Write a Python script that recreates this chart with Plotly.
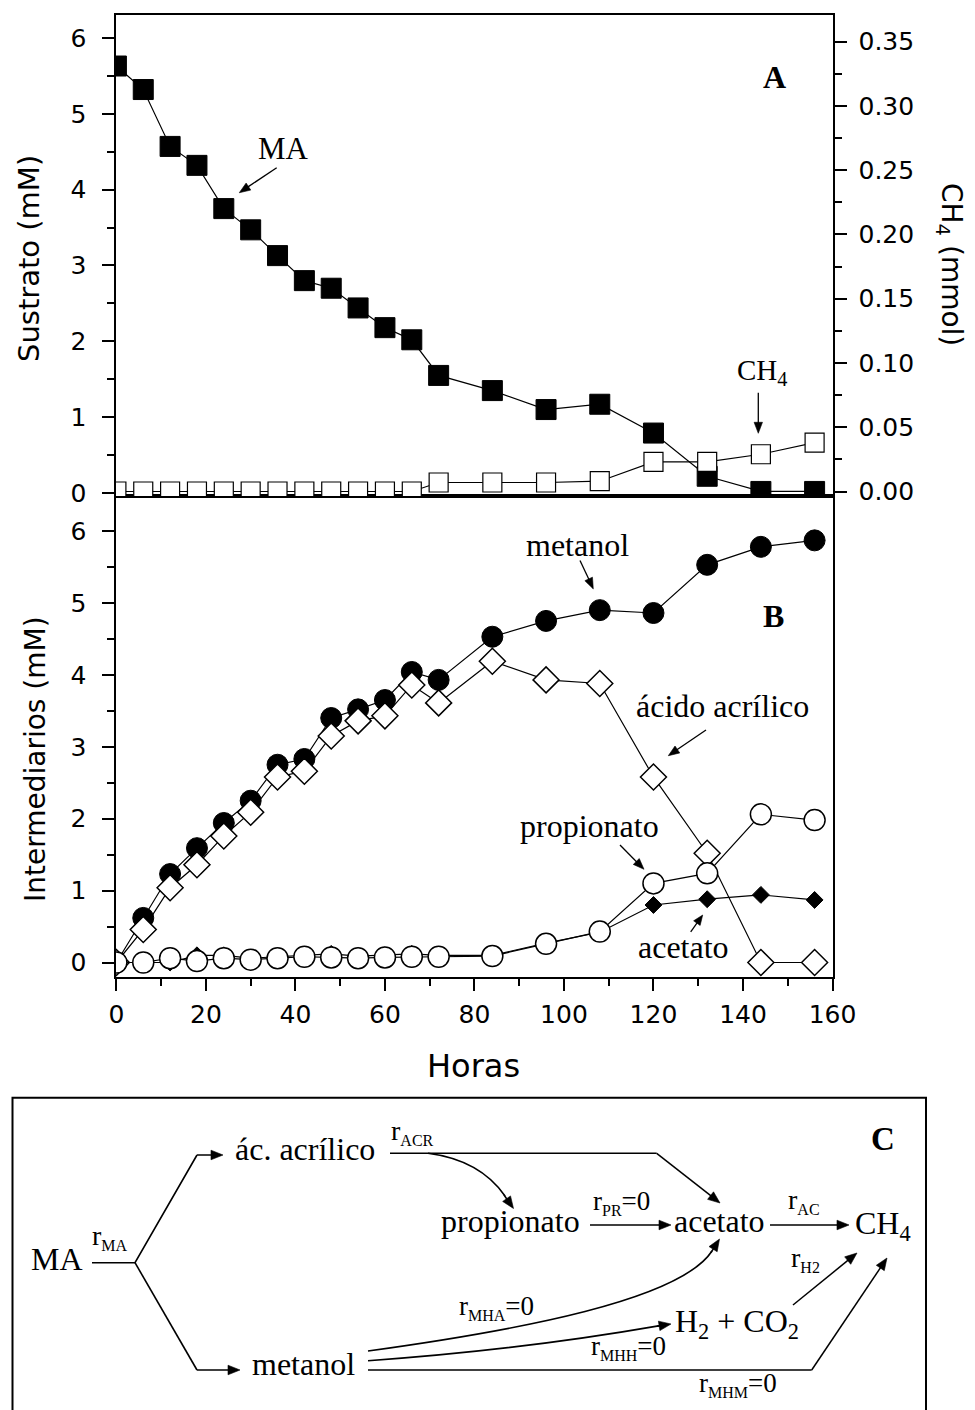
import math
import plotly.graph_objects as go

# ---------------- data ----------------
hours = [0, 6, 12, 18, 24, 30, 36, 42, 48, 54, 60, 66, 72, 84, 96, 108, 120, 132, 144, 156]
ma = [5.63, 5.32, 4.57, 4.32, 3.75, 3.47, 3.13, 2.80, 2.70, 2.44, 2.18, 2.02, 1.55,
      1.35, 1.10, 1.17, 0.79, 0.22, 0.02, 0.02]
ch4 = [0.0, 0.0, 0.0, 0.0, 0.0, 0.0, 0.0, 0.0, 0.0, 0.0, 0.0, 0.0, 0.007,
       0.007, 0.007, 0.008, 0.023, 0.023, 0.029, 0.038]
metanol = [0.0, 0.62, 1.23, 1.59, 1.94, 2.25, 2.75, 2.83, 3.40, 3.52, 3.65, 4.04, 3.93,
           4.53, 4.75, 4.90, 4.86, 5.53, 5.78, 5.87]
acrilico = [0.0, 0.46, 1.04, 1.36, 1.76, 2.09, 2.58, 2.66, 3.15, 3.36, 3.43, 3.86, 3.61,
            4.19, 3.93, 3.88, 2.58, 1.52, 0.0, 0.0]
propionato = [0.0, 0.0, 0.06, 0.02, 0.06, 0.04, 0.06, 0.08, 0.07, 0.06, 0.07, 0.08, 0.08,
              0.09, 0.26, 0.43, 1.10, 1.24, 2.06, 1.98]
acetato = [0.0, 0.0, 0.0, 0.10, 0.10, 0.06, 0.08, 0.09, 0.12, 0.09, 0.10, 0.12, 0.10,
           0.10, 0.27, 0.42, 0.80, 0.88, 0.94, 0.87]

x_ticks_dtick = 20
x_title = "Horas"
yA_title = "Sustrato (mM)"
yA2_title = "CH<sub>4</sub> (mmol)"
yB_title = "Intermediarios (mM)"

# ---------------- geometry helpers (pixel -> paper) ----------------
W, H = 975, 1410


def px(x):
    return x / W


def py(y):
    return 1 - y / H


SANS = "DejaVu Sans"
SERIF = "Liberation Serif, Times New Roman, serif"

fig = go.Figure()

line_style = dict(color="black", width=1.2)

# Panel A
fig.add_trace(go.Scatter(x=hours, y=ma, xaxis="x2", yaxis="y", mode="lines+markers",
                         line=line_style,
                         marker=dict(symbol="square", size=20, color="black",
                                     line=dict(color="black", width=1))))
fig.add_trace(go.Scatter(x=hours, y=ch4, xaxis="x2", yaxis="y2", mode="lines+markers",
                         line=line_style,
                         marker=dict(symbol="square", size=19, color="white",
                                     line=dict(color="black", width=1.2))))
# Panel B
fig.add_trace(go.Scatter(x=hours, y=metanol, xaxis="x", yaxis="y3", mode="lines+markers",
                         line=line_style,
                         marker=dict(symbol="circle", size=21, color="black",
                                     line=dict(color="black", width=1))))
fig.add_trace(go.Scatter(x=hours, y=acetato, xaxis="x", yaxis="y3", mode="lines+markers",
                         line=line_style,
                         marker=dict(symbol="diamond", size=13, color="black",
                                     line=dict(color="black", width=1))))
fig.add_trace(go.Scatter(x=hours, y=acrilico, xaxis="x", yaxis="y3", mode="lines+markers",
                         line=line_style,
                         marker=dict(symbol="diamond", size=20, color="white",
                                     line=dict(color="black", width=1.5))))
fig.add_trace(go.Scatter(x=hours, y=propionato, xaxis="x", yaxis="y3", mode="lines+markers",
                         line=line_style,
                         marker=dict(symbol="circle", size=21, color="white",
                                     line=dict(color="black", width=1.5))))

tickfont = dict(family=SANS, size=25, color="black")
base = dict(showline=True, linecolor="black", linewidth=2, showgrid=False, zeroline=False,
            ticks="outside", ticklen=12, tickwidth=2, tickcolor="black",
            tickfont=tickfont, automargin=False)

xdom = [px(115.5), px(832.5)]
xrange = [-0.2, 160]

fig.update_layout(
    width=W, height=H, autosize=False,
    margin=dict(l=0, r=0, t=0, b=0, pad=0, autoexpand=False),
    paper_bgcolor="white", plot_bgcolor="white", showlegend=False,
    xaxis=dict(base, domain=xdom, range=xrange, anchor="y3", dtick=x_ticks_dtick, tick0=0,
               mirror=True, ticklabelstandoff=2,
               minor=dict(dtick=10, ticks="outside", ticklen=7, tickwidth=2,
                          tickcolor="black", showgrid=False)),
    xaxis2=dict(showline=True, linecolor="black", linewidth=2, mirror=True, showgrid=False,
                zeroline=False, domain=xdom, range=xrange, anchor="y", ticks="",
                showticklabels=False, matches="x"),
    yaxis=dict(base, domain=[py(496), py(15)], range=[-0.04, 6.303], anchor="x2",
               dtick=1, tick0=0, mirror=True, ticklabelstandoff=10,
               minor=dict(dtick=0.5, ticks="outside", ticklen=7, tickwidth=2,
                          tickcolor="black", showgrid=False)),
    yaxis2=dict(base, overlaying="y", side="right", anchor="x2",
                range=[-0.0035, 0.3708], dtick=0.05, tick0=0, tickformat=".2f",
                ticklabelstandoff=7,
                minor=dict(dtick=0.025, ticks="outside", ticklen=7, tickwidth=2,
                           tickcolor="black", showgrid=False)),
    yaxis3=dict(base, domain=[py(977), py(496)], range=[-0.2016, 6.487], anchor="x",
                dtick=1, tick0=0, mirror=True, ticklabelstandoff=10,
                minor=dict(dtick=0.5, ticks="outside", ticklen=7, tickwidth=2,
                           tickcolor="black", showgrid=False)),
)

annotations = []
shapes = []


def txt(x, y, text, size=32, family=SERIF, xanchor="center", angle=0):
    annotations.append(dict(x=px(x), y=py(y), xref="paper", yref="paper", text=text,
                            showarrow=False, xanchor=xanchor, yanchor="middle",
                            textangle=angle,
                            font=dict(family=family, size=size, color="black")))


def P(x, y):
    return f"{px(x):.5f},{py(y):.5f}"


def path(d, width=1.6):
    shapes.append(dict(type="path", xref="paper", yref="paper", path=d,
                       line=dict(color="black", width=width)))


def arrow(tail, head, width=1.5, L=12.0, hw=4.8):
    """Straight segment tail->head finished with a filled triangular head."""
    dx, dy = head[0] - tail[0], head[1] - tail[1]
    n = math.hypot(dx, dy)
    ux, uy = dx / n, dy / n
    bx, by = head[0] - L * ux, head[1] - L * uy
    path(f"M{P(*tail)} L{P(bx + ux, by + uy)}", width=width)
    nx, ny = -uy, ux
    d = (f"M{P(*head)} L{P(bx + hw * nx, by + hw * ny)} "
         f"L{P(bx - hw * nx, by - hw * ny)} Z")
    shapes.append(dict(type="path", xref="paper", yref="paper", path=d,
                       fillcolor="black", line=dict(color="black", width=0.6)))


# axis titles
txt(29, 259, yA_title, size=29, family=SANS, angle=-90)
txt(35, 759, yB_title, size=28, family=SANS, angle=-90)
txt(950, 264, yA2_title, size=28, family=SANS, angle=90)
txt(473, 1066, x_title, size=32, family=SANS)

# Panel A labels
txt(283, 149, "MA", size=31)
arrow((276.7, 167.7), (239.3, 192.7), width=1.3, L=11, hw=4.2)
txt(774, 76.5, "<b>A</b>", size=32)
txt(762, 372, "CH<sub>4</sub>", size=29)
arrow((758.3, 392.7), (758.3, 433.3), width=1.3, L=11, hw=4.2)

# Panel B labels
txt(577.5, 545, "metanol", size=32)
arrow((580, 560.4), (593.3, 588.9), width=1.3, L=11, hw=4.2)
txt(773, 615.6, "<b>B</b>", size=32)
txt(722.5, 705.6, "ácido acrílico", size=32)
arrow((706, 730), (668.3, 755.7), width=1.3, L=11, hw=4.2)
txt(589, 826, "propionato", size=32)
arrow((620, 845), (644, 869.3), width=1.3, L=11, hw=4.2)
txt(683.3, 947, "acetato", size=32)
arrow((690.7, 931.8), (702.7, 915), width=1.3, L=10, hw=4.0)

# ---------------- Panel C: reaction scheme ----------------
shapes.append(dict(type="rect", xref="paper", yref="paper",
                   x0=px(12.5), x1=px(926), y0=py(1425), y1=py(1097.7),
                   line=dict(color="black", width=2)))

txt(57, 1259, "MA", size=32)
txt(305, 1149, "ác. acrílico", size=32)
txt(303, 1364, "metanol", size=32)
txt(511, 1221, "propionato", size=32)
txt(719, 1221, "acetato", size=32)
txt(853, 1225, "CH<sub>4</sub>", size=32, xanchor="left")
txt(737, 1323, "H<sub>2</sub> + CO<sub>2</sub>", size=32)
txt(883, 1139, "<b>C</b>", size=33)


def rlab(sub, suffix=""):
    return f'r<sub><span style="font-size:16px">{sub}</span></sub>{suffix}'


txt(90, 1237, rlab("MA"), size=28, xanchor="left")
txt(389, 1132, rlab("ACR"), size=28, xanchor="left")
txt(591, 1202.5, rlab("PR", "=0"), size=27, xanchor="left")
txt(786, 1200.5, rlab("AC"), size=28, xanchor="left")
txt(789, 1259, rlab("H2"), size=28, xanchor="left")
txt(457, 1307.5, rlab("MHA", "=0"), size=27, xanchor="left")
txt(589, 1347.5, rlab("MHH", "=0"), size=27, xanchor="left")
txt(697, 1384, rlab("MHM", "=0"), size=27, xanchor="left")

# MA branching
path(f"M{P(92, 1262.7)} L{P(135, 1262.7)} L{P(197, 1155)}")
arrow((197, 1155), (223, 1155))
path(f"M{P(135, 1262.7)} L{P(197, 1370)}")
arrow((197, 1370), (240, 1370))
# acrylic -> acetate (straight with corner)
path(f"M{P(390, 1153.3)} L{P(656.7, 1153.3)}")
arrow((656.7, 1153.3), (720, 1203))
# acrylic -> propionate (curve)
path(f"M{P(428, 1153.3)} Q{P(480, 1160)} {P(505, 1196)}")
arrow((504, 1195), (513.5, 1208.5))
# propionate -> acetate, acetate -> CH4
arrow((590, 1225), (671, 1225))
arrow((770, 1225), (849, 1225))
# methanol -> acetate (curve)
path(f"M{P(368, 1351)} C{P(520, 1330)} {P(680, 1300)} {P(712, 1251)}")
arrow((711, 1252.5), (719.5, 1239))
# methanol -> H2 + CO2
path(f"M{P(368, 1360.7)} Q{P(520, 1350)} {P(660, 1325.6)}")
arrow((657, 1326.2), (671, 1324))
# methanol -> CH4
path(f"M{P(368, 1370)} L{P(811.7, 1370)}")
arrow((811.7, 1370), (887, 1258))
# H2 + CO2 -> CH4
arrow((793, 1305), (857, 1253))

fig.update_layout(annotations=annotations, shapes=shapes)

fig.write_html("out.html")
